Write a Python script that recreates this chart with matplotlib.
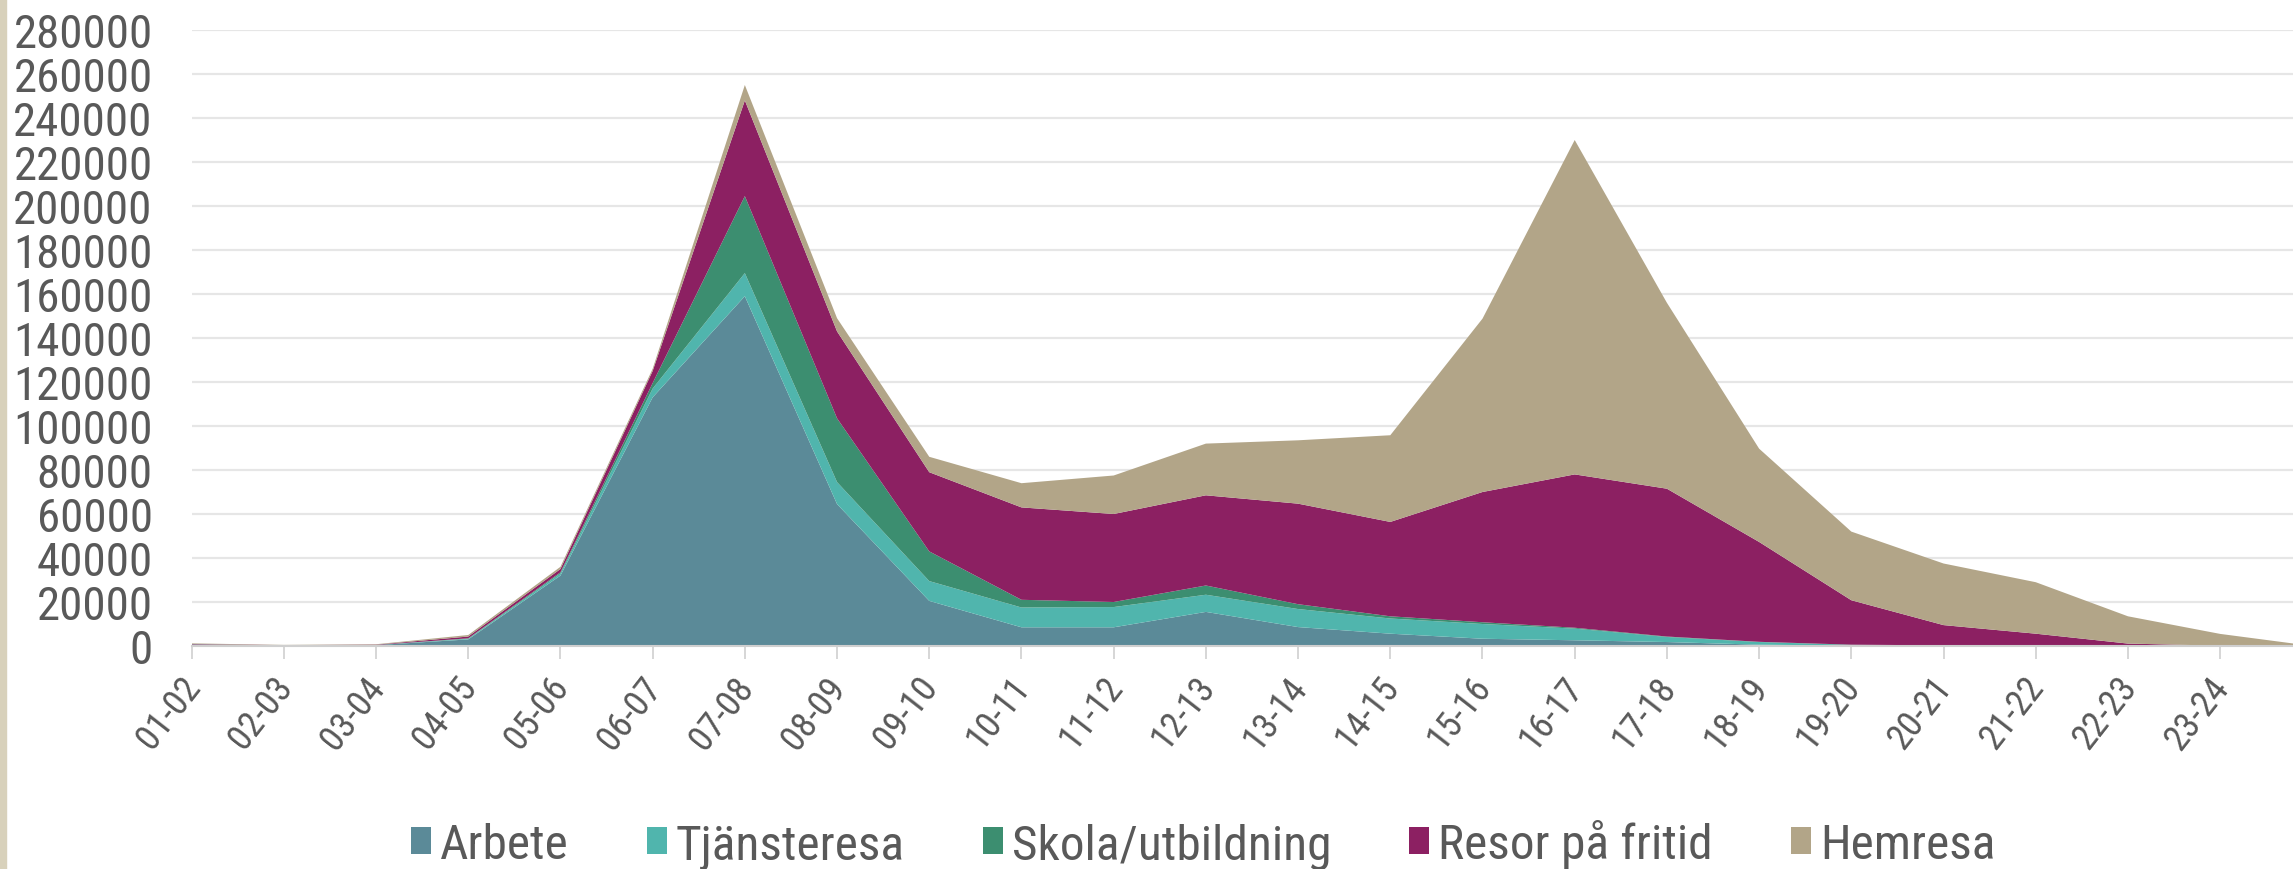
import matplotlib
matplotlib.use("Agg")
import matplotlib.pyplot as plt
import matplotlib.transforms as mtransforms
from matplotlib.patches import Patch, Rectangle
from matplotlib.font_manager import FontProperties, fontManager

plt.rcParams['font.family'] = ['Liberation Sans', 'DejaVu Sans']


def pick_condensed():
    names = {f.name for f in fontManager.ttflist}
    for fam in ['Roboto Condensed', 'Liberation Sans Narrow', 'Open Sans Condensed',
                'Noto Sans Condensed', 'DejaVu Sans Condensed']:
        if fam in names:
            return dict(family=[fam, 'DejaVu Sans'])
    for fam in ['Noto Sans', 'Open Sans', 'Roboto', 'DejaVu Sans']:
        for f in fontManager.ttflist:
            st = f.stretch
            cond = (isinstance(st, str) and 'condensed' in st) or \
                   (isinstance(st, (int, float)) and st < 500)
            if f.name == fam and cond and f.style == 'normal':
                return dict(family=[fam, 'DejaVu Sans'], stretch=st)
    return dict(family=['Liberation Sans', 'DejaVu Sans'])


COND = pick_condensed()

categories = ["01-02", "02-03", "03-04", "04-05", "05-06", "06-07", "07-08", "08-09",
              "09-10", "10-11", "11-12", "12-13", "13-14", "14-15", "15-16", "16-17",
              "17-18", "18-19", "19-20", "20-21", "21-22", "22-23", "23-24", "24-01"]

arbete = [600, 300, 400, 3000, 32000, 113000, 159000, 64500, 20500, 8500, 8500, 15500,
          8600, 5600, 3300, 2600, 1800, 600, 200, 100, 100, 50, 0, 0]
tjansteresa = [50, 20, 20, 300, 1000, 4000, 10500, 10000, 9000, 9000, 9200, 7800,
               8200, 6900, 6700, 5300, 2300, 1200, 300, 100, 50, 30, 0, 0]
skola = [50, 10, 20, 200, 500, 2500, 35000, 29000, 13500, 3500, 2300, 4200,
         2200, 1000, 800, 400, 200, 100, 100, 100, 50, 20, 0, 0]
resor_fritid = [200, 70, 160, 800, 1500, 5500, 43500, 39500, 36000, 42000, 40000, 41000,
                45700, 42900, 59200, 69700, 67200, 45400, 20200, 9200, 5400, 1000, 150, 0]
hemresa = [300, 100, 200, 700, 1000, 1000, 7000, 6000, 7000, 11000, 17500, 23500,
           28800, 39400, 78800, 152000, 84500, 42400, 31200, 28000, 23400, 12400, 5350, 0]

series_names = ["Arbete", "Tjänsteresa", "Skola/utbildning", "Resor på fritid", "Hemresa"]
colors = ["#5b8a98", "#50b5ad", "#3c8e70", "#8c2062", "#b2a588"]

W, H = 2293, 870
fig = plt.figure(figsize=(W / 100, H / 100), dpi=100)
renderer = fig.canvas.get_renderer()


def text_width(s, size):
    t = fig.text(0, 0, s, fontproperties=FontProperties(size=size, **COND))
    w = t.get_window_extent(renderer).width
    t.remove()
    return w


# size the condensed font so widths match the reference
leg_ref = sum(text_width(s, 10) for s in series_names)
leg_size = 10 * 1120 / leg_ref
xl_size = 10 * 80 / text_width("01-02", 10)
yl_size = 10 * 137 / text_width("280000", 10)

# beige border strip at left edge
fig.patches.append(Rectangle((0, 0), 6 / W, 1, transform=fig.transFigure,
                             color="#d8d1bb", zorder=0))

ax_left = 191.6 / W
ax_bottom = (H - 647) / H
ax_top = (H - 31) / H
ax = fig.add_axes([ax_left, ax_bottom, 1 - ax_left, ax_top - ax_bottom])

x = list(range(len(categories)))
ax.stackplot(x, arbete, tjansteresa, skola, resor_fritid, hemresa,
             colors=colors, labels=series_names, linewidth=0, zorder=2)

ax.set_yticks(range(0, 280001, 20000))
ax.set_xticks(x)
ax.set_xticklabels(categories)
ax.set_xlim(0, 22.79)
ax.set_ylim(0, 280000)
ax.yaxis.grid(True, color="#e6e6e6", linewidth=1.6, zorder=0)
ax.set_axisbelow(True)

for s in ["top", "right", "left"]:
    ax.spines[s].set_visible(False)
ax.spines["bottom"].set_color("#cfcfcf")
ax.spines["bottom"].set_linewidth(1.5)
ax.spines["bottom"].set_zorder(3)

ax.tick_params(axis="y", length=0, pad=28, labelcolor="#595959")
for lbl in ax.get_yticklabels():
    lbl.set_fontproperties(FontProperties(size=yl_size, **COND))

ax.tick_params(axis="x", length=9.5, width=1.1, color="#cccccc", pad=7.5,
               labelcolor="#595959")
offset = mtransforms.ScaledTranslation(16 / 100, 0, fig.dpi_scale_trans)
for lbl in ax.get_xticklabels():
    lbl.set_fontproperties(FontProperties(size=xl_size, **COND))
    lbl.set_rotation(52)
    lbl.set_ha("right")
    lbl.set_va("top")
    lbl.set_rotation_mode("default")
    lbl.set_transform(lbl.get_transform() + offset)

em = leg_size * 100 / 72
handles = [Patch(facecolor=c, edgecolor="none") for c in colors]
leg = fig.legend(handles, series_names, loc="center",
                 bbox_to_anchor=(1203 / W, 1 - 845 / H), ncol=5, frameon=False,
                 prop=FontProperties(size=leg_size, **COND),
                 handlelength=20 / em, handleheight=22 / em,
                 handletextpad=9 / em, columnspacing=78 / em, borderpad=0)
for t in leg.get_texts():
    t.set_color("#595959")

fig.savefig("out.png", dpi=100, facecolor="white")
